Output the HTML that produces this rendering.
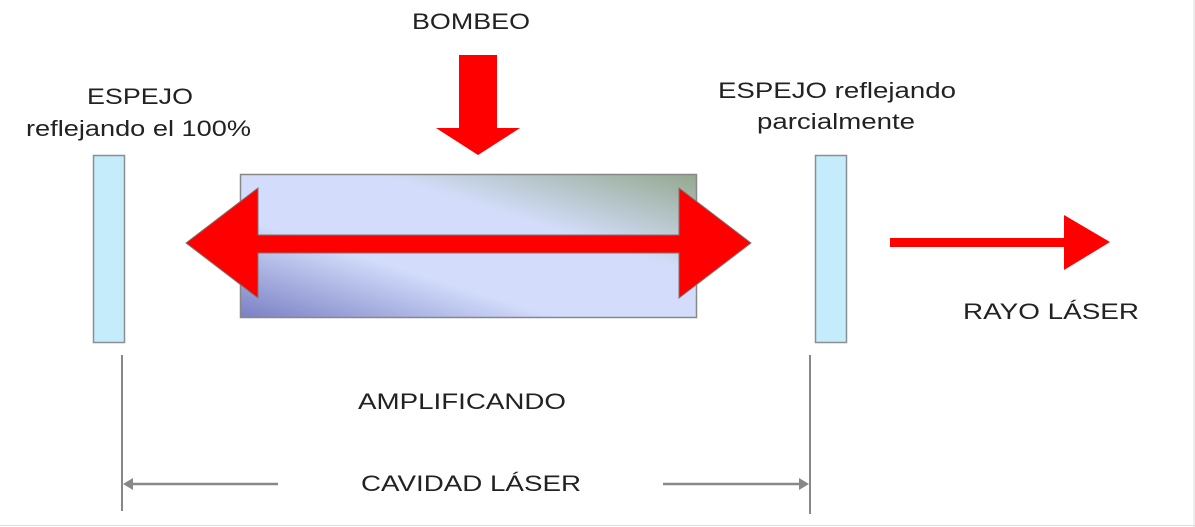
<!DOCTYPE html>
<html><head><meta charset="utf-8"><style>
html,body{margin:0;padding:0;background:#fff;}
svg{display:block;}
text{font-family:"Liberation Sans",Arial,sans-serif;font-size:22px;fill:#222;}
</style></head><body>
<svg width="1195" height="527" viewBox="0 0 1195 527" xmlns="http://www.w3.org/2000/svg">
<defs>
<linearGradient id="g" x1="0" y1="1" x2="1" y2="0">
<stop offset="0" stop-color="#7a80c4"/>
<stop offset="0.35" stop-color="#d3ddfb"/>
<stop offset="0.65" stop-color="#d3ddfb"/>
<stop offset="1" stop-color="#94a88e"/>
</linearGradient>
</defs>
<line x1="1194" y1="0" x2="1194" y2="527" stroke="#ddd" stroke-width="1"/>
<line x1="0" y1="525.5" x2="1195" y2="525.5" stroke="#ddd" stroke-width="1"/>
<text x="412" y="29" textLength="118" lengthAdjust="spacingAndGlyphs">BOMBEO</text>
<text x="87" y="104" textLength="106" lengthAdjust="spacingAndGlyphs">ESPEJO</text>
<text x="26" y="136" textLength="225" lengthAdjust="spacingAndGlyphs">reflejando el 100%</text>
<text x="718" y="98" textLength="238" lengthAdjust="spacingAndGlyphs">ESPEJO reflejando</text>
<text x="757" y="129" textLength="158" lengthAdjust="spacingAndGlyphs">parcialmente</text>
<text x="963" y="319" textLength="176" lengthAdjust="spacingAndGlyphs">RAYO LÁSER</text>
<text x="358" y="409" textLength="208" lengthAdjust="spacingAndGlyphs">AMPLIFICANDO</text>
<text x="361" y="491" textLength="220" lengthAdjust="spacingAndGlyphs">CAVIDAD LÁSER</text>
<polygon points="459,55 497,55 497,128 520,128 478,155 436,128 459,128" fill="#f00"/>
<rect x="240.5" y="174.5" width="456" height="143" fill="url(#g)" stroke="#888" stroke-width="1.5"/>
<polygon points="186,243 258,188 258,235 679,235 679,188 751,243 679,298 679,253 258,253 258,298" fill="#f00" stroke="#777" stroke-width="1"/>
<rect x="93.5" y="155.5" width="31" height="187" fill="#c4ecfa" stroke="#8a8f96" stroke-width="1.5"/>
<rect x="815.5" y="155.5" width="31" height="187" fill="#c4ecfa" stroke="#8a8f96" stroke-width="1.5"/>
<rect x="890" y="238" width="176" height="9" fill="#f00"/>
<polygon points="1064,215 1110,242 1064,270" fill="#f00"/>
<line x1="122" y1="355" x2="122" y2="511" stroke="#888" stroke-width="2"/>
<line x1="810" y1="355" x2="810" y2="514" stroke="#888" stroke-width="2"/>
<line x1="130" y1="484" x2="278" y2="484" stroke="#888" stroke-width="2.5"/>
<polygon points="123,484 133,478 133,490" fill="#888"/>
<line x1="663" y1="484" x2="801" y2="484" stroke="#888" stroke-width="2.5"/>
<polygon points="809,484 799,478 799,490" fill="#888"/>
</svg>
</body></html>
